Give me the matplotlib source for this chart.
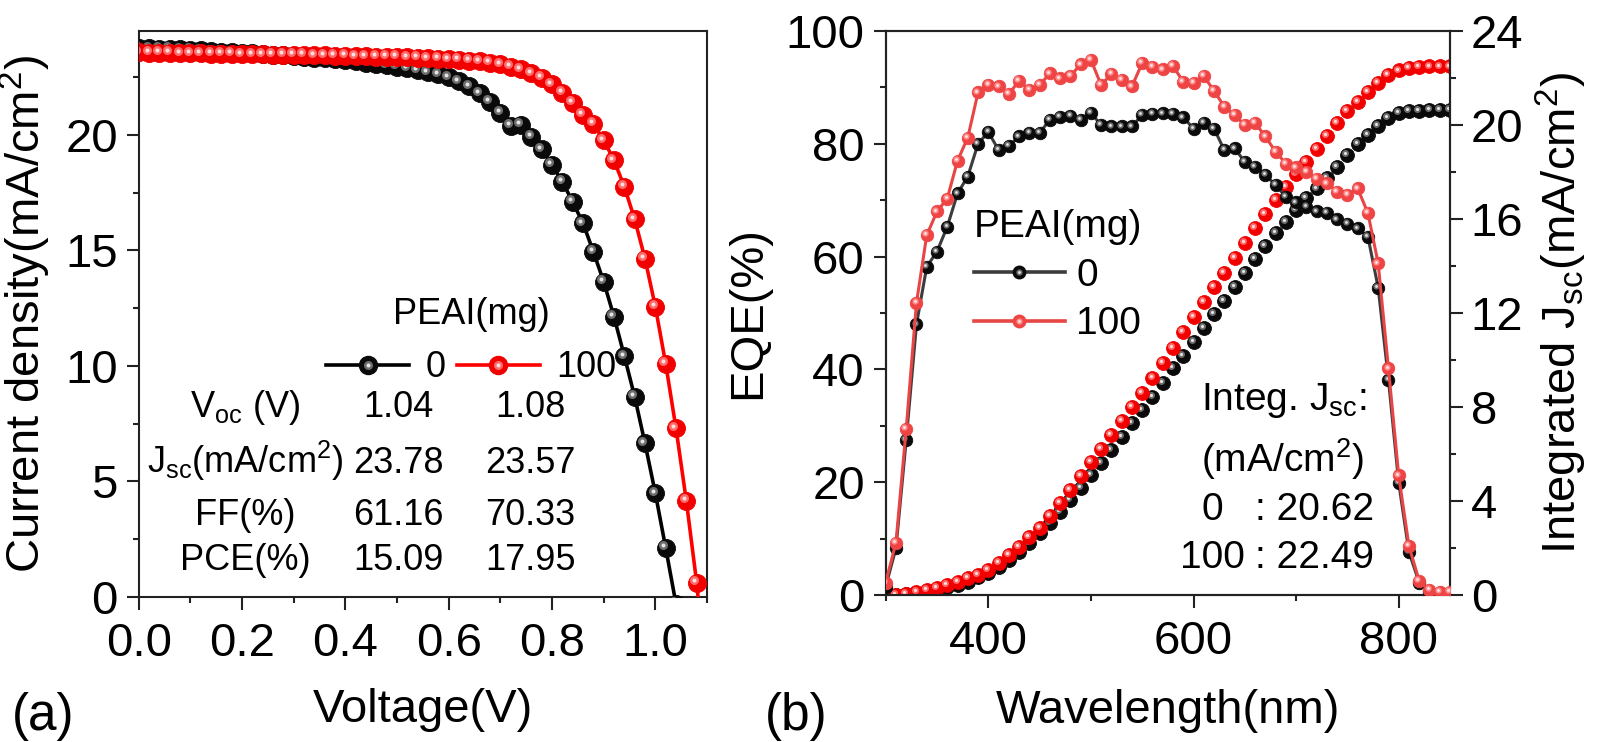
import numpy as np
import matplotlib
matplotlib.use("Agg")
import matplotlib.pyplot as plt
from matplotlib.lines import Line2D
from matplotlib.legend_handler import HandlerTuple
from matplotlib.transforms import offset_copy
from matplotlib.ticker import MultipleLocator

plt.rcParams['font.family'] = ['Liberation Sans', 'DejaVu Sans']
plt.rcParams['mathtext.fontset'] = 'custom'
plt.rcParams['mathtext.rm'] = 'Liberation Sans'
plt.rcParams['mathtext.it'] = 'Liberation Sans:italic'
plt.rcParams['mathtext.bf'] = 'Liberation Sans:bold'

# ---------------- (a) J-V data ----------------
voltage_0 = [0.00, 0.02, 0.04, 0.06, 0.08, 0.10, 0.12, 0.14, 0.16, 0.18,
             0.20, 0.22, 0.24, 0.26, 0.28, 0.30, 0.32, 0.34, 0.36, 0.38,
             0.40, 0.42, 0.44, 0.46, 0.48, 0.50, 0.52, 0.54, 0.56, 0.58,
             0.60, 0.62, 0.64, 0.66, 0.68, 0.70, 0.72, 0.74, 0.76, 0.78,
             0.80, 0.82, 0.84, 0.86, 0.88, 0.90, 0.92, 0.94, 0.96, 0.98,
             1.00, 1.02, 1.04]
current_0 = [23.78, 23.76, 23.74, 23.72, 23.70, 23.68, 23.66, 23.63, 23.61, 23.58,
             23.56, 23.53, 23.50, 23.47, 23.44, 23.41, 23.38, 23.35, 23.31, 23.27,
             23.23, 23.18, 23.13, 23.08, 23.02, 22.96, 22.89, 22.81, 22.72, 22.62,
             22.50, 22.33, 22.10, 21.80, 21.44, 20.95, 20.40, 20.43, 19.93, 19.38,
             18.70, 17.98, 17.10, 16.18, 14.95, 13.65, 12.13, 10.43, 8.67, 6.65,
             4.49, 2.13, -0.30]
voltage_100 = [0.00, 0.02, 0.04, 0.06, 0.08, 0.10, 0.12, 0.14, 0.16, 0.18,
               0.20, 0.22, 0.24, 0.26, 0.28, 0.30, 0.32, 0.34, 0.36, 0.38,
               0.40, 0.42, 0.44, 0.46, 0.48, 0.50, 0.52, 0.54, 0.56, 0.58,
               0.60, 0.62, 0.64, 0.66, 0.68, 0.70, 0.72, 0.74, 0.76, 0.78,
               0.80, 0.82, 0.84, 0.86, 0.88, 0.90, 0.92, 0.94, 0.96, 0.98,
               1.00, 1.02, 1.04, 1.06, 1.08, 1.10]
current_100 = [23.57, 23.56, 23.56, 23.55, 23.54, 23.53, 23.53, 23.52, 23.51, 23.51,
               23.50, 23.49, 23.49, 23.48, 23.47, 23.46, 23.46, 23.45, 23.44, 23.43,
               23.42, 23.41, 23.40, 23.39, 23.38, 23.38, 23.36, 23.34, 23.32, 23.30,
               23.27, 23.25, 23.22, 23.19, 23.13, 23.06, 22.96, 22.84, 22.67, 22.48,
               22.19, 21.83, 21.40, 20.87, 20.48, 19.78, 18.90, 17.76, 16.35, 14.64,
               12.57, 10.10, 7.30, 4.16, 0.62, -4.00]

legend_title = "PEAI(mg)"
series_names = ["0", "100"]
table_rows = ["V$_{\\mathrm{oc}}$ (V)", "J$_{\\mathrm{sc}}$(mA/cm$^{\\mathrm{2}}$)", "FF(%)", "PCE(%)"]
table_0 = ["1.04", "23.78", "61.16", "15.09"]
table_100 = ["1.08", "23.57", "70.33", "17.95"]

# ---------------- (b) EQE data ----------------
wavelength = [300, 310, 320, 330, 340, 350, 360, 370, 380, 390,
              400, 410, 420, 430, 440, 450, 460, 470, 480, 490,
              500, 510, 520, 530, 540, 550, 560, 570, 580, 590,
              600, 610, 620, 630, 640, 650, 660, 670, 680, 690,
              700, 710, 720, 730, 740, 750, 760, 770, 780, 790,
              800, 810, 820, 830, 840, 850]
eqe_0 = [1.5, 8.3, 27.5, 48.0, 58.2, 60.9, 65.3, 71.2, 74.2, 80.0,
         82.1, 78.9, 79.6, 81.3, 82.0, 81.9, 84.3, 84.8, 84.9, 84.2,
         85.5, 83.3, 83.1, 83.1, 83.1, 85.1, 85.3, 85.4, 85.3, 84.7,
         82.7, 83.7, 82.7, 78.9, 79.2, 76.8, 75.9, 74.5, 72.7, 70.6,
         69.6, 68.8, 68.0, 67.7, 66.6, 65.8, 65.0, 63.5, 54.5, 38.2,
         19.9, 7.6, 2.2, 0.6, 0.3, 0.2]
eqe_100 = [2.2, 9.3, 29.5, 51.8, 63.8, 68.0, 70.3, 77.0, 81.1, 89.1,
           90.5, 90.2, 88.8, 91.2, 89.5, 90.4, 92.5, 91.6, 92.0, 94.1,
           94.9, 90.4, 92.4, 91.4, 90.2, 94.3, 93.7, 93.2, 93.8, 91.0,
           90.8, 92.0, 89.4, 86.6, 85.1, 83.3, 83.7, 81.3, 78.6, 76.5,
           75.8, 75.0, 73.8, 73.0, 71.5, 70.9, 72.1, 67.7, 58.8, 40.2,
           21.2, 8.65, 2.5, 0.85, 0.6, 0.5]
jint_0 = [0.00, 0.02, 0.05, 0.09, 0.15, 0.23, 0.32, 0.44, 0.57, 0.75,
          0.95, 1.20, 1.49, 1.84, 2.20, 2.62, 3.05, 3.54, 4.04, 4.54,
          5.11, 5.60, 6.17, 6.71, 7.31, 7.87, 8.44, 9.03, 9.65, 10.17,
          10.78, 11.35, 11.96, 12.50, 13.10, 13.70, 14.30, 14.85, 15.39, 15.89,
          16.38, 16.88, 17.30, 17.73, 18.23, 18.72, 19.19, 19.57, 19.96, 20.28,
          20.50, 20.59, 20.61, 20.62, 20.62, 20.62]
jint_100 = [0.00, 0.02, 0.06, 0.12, 0.20, 0.30, 0.42, 0.56, 0.71, 0.87,
            1.06, 1.35, 1.70, 2.06, 2.45, 2.87, 3.36, 3.90, 4.47, 5.06,
            5.65, 6.22, 6.81, 7.39, 7.99, 8.61, 9.22, 9.87, 10.53, 11.20,
            11.84, 12.48, 13.12, 13.69, 14.36, 15.00, 15.60, 16.22, 16.80, 17.37,
            17.91, 18.44, 19.00, 19.55, 20.07, 20.60, 21.00, 21.40, 21.80, 22.13,
            22.32, 22.42, 22.47, 22.49, 22.49, 22.49]
integ_lines = ["Integ. J$_{\\mathrm{sc}}$:", "(mA/cm$^{\\mathrm{2}}$)"]
integ_names = ["0", "100"]
integ_values = [": 20.62", ": 22.49"]

# ---------------- figure ----------------
W, H = 1600, 742
fig = plt.figure(figsize=(16, 7.42), dpi=100)

def rect(l, t, r, b):
    return [l / W, 1 - b / H, (r - l) / W, (b - t) / H]

ax1 = fig.add_axes(rect(138.7, 31, 707, 597))
ax2 = fig.add_axes(rect(885.7, 31, 1450, 595))
ax2r = ax2.twinx()

TICK_FS = 34
LABEL_FS = 34
MS_JV = 13
MS_EQE = 9
MS_INT = 10

def balls(ax, x, y, base, hl1, hl2, ms, z, line=None, lw=0.0):
    ax.plot(x, y, ls='-' if line else 'none', color=line if line else base, lw=lw,
            marker='o', ms=ms, mfc=base, mec=base, mew=0.6, zorder=z)
    tr = offset_copy(ax.transData, fig=fig, x=-ms * 0.14, y=ms * 0.14, units='points')
    ax.plot(x, y, ls='none', marker='o', ms=ms * 0.5, mfc=hl1, mec='none',
            transform=tr, zorder=z + 0.1)
    ax.plot(x, y, ls='none', marker='o', ms=ms * 0.22, mfc=hl2, mec='none',
            transform=tr, zorder=z + 0.2)

def ball_handle(base, hl1, hl2, ms, line, lw):
    return (Line2D([], [], color=line, lw=lw, marker='o', ms=ms, mfc=base, mec=base),
            Line2D([], [], ls='none', marker='o', ms=ms * 0.5, mfc=hl1, mec='none'),
            Line2D([], [], ls='none', marker='o', ms=ms * 0.22, mfc=hl2, mec='none'))

BLK = ('#0a0a0a', '#6e6e6e', '#e6e6e6')
RED = ('#f20000', '#ff6a6a', '#ffe0e0')
RED_EQE = ('#ee4444', '#ff8c8c', '#ffe8e8')

# ---- panel (a)
balls(ax1, voltage_0, current_0, *BLK, ms=MS_JV, z=3, line='#000000', lw=2.6)
balls(ax1, voltage_100, current_100, *RED, ms=MS_JV, z=4, line='#ff0000', lw=2.6)
ax1.set_xlim(0, 1.1)
ax1.set_ylim(0, 24.5)
ax1.xaxis.set_major_locator(MultipleLocator(0.2))
ax1.xaxis.set_minor_locator(MultipleLocator(0.1))
ax1.yaxis.set_major_locator(MultipleLocator(5))
ax1.yaxis.set_minor_locator(MultipleLocator(2.5))
ax1.xaxis.set_major_formatter(matplotlib.ticker.FormatStrFormatter('%.1f'))
ax1.set_xlabel("Voltage(V)", fontsize=LABEL_FS)
ax1.set_ylabel("Current density(mA/cm$^{\\mathrm{2}}$)", fontsize=LABEL_FS)
ax1.xaxis.set_label_coords(0.5, -0.160)
ax1.yaxis.set_label_coords(-0.150, 0.5)

h0 = ball_handle(*BLK, MS_JV, '#000000', 2.6)
h1 = ball_handle(*RED, MS_JV, '#ff0000', 2.6)
leg1 = ax1.legend([h0, h1], series_names, title=legend_title, ncol=2,
                  handler_map={tuple: HandlerTuple(ndivide=1)},
                  loc='center', bbox_to_anchor=(0.585, 0.452), frameon=False,
                  fontsize=26, title_fontsize=26, handlelength=2.3,
                  handletextpad=0.45, columnspacing=0.3, borderpad=0.1,
                  borderaxespad=0)

row_y = [0.3186, 0.2186, 0.1272, 0.0477]
for lab, v0, v1, yy in zip(table_rows, table_0, table_100, row_y):
    ax1.text(0.187, yy, lab, transform=ax1.transAxes, ha='center', va='baseline', fontsize=26)
    ax1.text(0.457, yy, v0, transform=ax1.transAxes, ha='center', va='baseline', fontsize=26)
    ax1.text(0.689, yy, v1, transform=ax1.transAxes, ha='center', va='baseline', fontsize=26)

# ---- panel (b)
balls(ax2r, wavelength, jint_0, *BLK, ms=MS_INT, z=3)
balls(ax2r, wavelength, jint_100, *RED, ms=MS_INT, z=4)
balls(ax2, wavelength, eqe_0, *BLK, ms=MS_EQE, z=3, line='#3c3c3c', lw=2.2)
balls(ax2, wavelength, eqe_100, *RED_EQE, ms=MS_EQE, z=4, line='#e84545', lw=2.2)
ax2.set_zorder(ax2r.get_zorder() + 1)
ax2.patch.set_visible(False)

ax2.set_xlim(300, 850)
ax2.set_ylim(0, 100)
ax2r.set_ylim(0, 24)
ax2.xaxis.set_major_locator(MultipleLocator(200))
ax2.xaxis.set_minor_locator(MultipleLocator(100))
ax2.yaxis.set_major_locator(MultipleLocator(20))
ax2.yaxis.set_minor_locator(MultipleLocator(10))
ax2r.yaxis.set_major_locator(MultipleLocator(4))
ax2r.yaxis.set_minor_locator(MultipleLocator(2))
ax2.set_xlabel("Wavelength(nm)", fontsize=LABEL_FS)
ax2.set_ylabel("EQE(%)", fontsize=LABEL_FS)
ax2r.set_ylabel("Integrated J$_{\\mathrm{sc}}$(mA/cm$^{\\mathrm{2}}$)", fontsize=LABEL_FS)
ax2.xaxis.set_label_coords(0.5, -0.166)
ax2.yaxis.set_label_coords(-0.204, 0.5)
ax2r.yaxis.set_label_coords(1.148, 0.5)

g0 = ball_handle(*BLK, MS_EQE, '#3c3c3c', 2.6)
g1 = ball_handle(*RED_EQE, MS_EQE, '#e84545', 2.6)
leg2 = ax2.legend([g0, g1], series_names, title=legend_title, ncol=1,
                  handler_map={tuple: HandlerTuple(ndivide=1)},
                  loc='center', bbox_to_anchor=(0.306, 0.566), frameon=False,
                  fontsize=28, title_fontsize=28, handlelength=2.33,
                  handletextpad=0.3, labelspacing=0.32, borderpad=0.1,
                  borderaxespad=0)
leg2._legend_box.align = "left"

ax2.text(0.5588, 0.328, integ_lines[0], transform=ax2.transAxes, ha='left', va='baseline', fontsize=28)
ax2.text(0.5588, 0.2186, integ_lines[1], transform=ax2.transAxes, ha='left', va='baseline', fontsize=28)
ax2.text(0.5588, 0.133, integ_names[0], transform=ax2.transAxes, ha='left', va='baseline', fontsize=28)
ax2.text(0.5215, 0.0473, integ_names[1], transform=ax2.transAxes, ha='left', va='baseline', fontsize=28)
ax2.text(0.655, 0.133, integ_values[0], transform=ax2.transAxes, ha='left', va='baseline', fontsize=28)
ax2.text(0.655, 0.0473, integ_values[1], transform=ax2.transAxes, ha='left', va='baseline', fontsize=28)

# ---- styling
for ax in (ax1, ax2, ax2r):
    for s in ax.spines.values():
        s.set_linewidth(1.5)
        s.set_color('#222222')
    ax.tick_params(which='major', direction='out', length=9, width=1.5,
                   labelsize=TICK_FS, color='#222222')
    ax.tick_params(which='minor', direction='out', length=4.5, width=1.5, color='#222222')
ax1.tick_params(axis='y', which='both', right=False)
ax1.tick_params(axis='x', which='both', top=False)
ax1.tick_params(axis='x', which='major', pad=9)
ax1.tick_params(axis='y', which='major', pad=6)
ax2.tick_params(axis='x', which='both', top=False)
ax2.tick_params(axis='x', which='major', pad=9)
ax2.tick_params(axis='y', which='major', pad=6)
ax2r.tick_params(axis='y', which='major', pad=6)

fig.text(12 / W, 1 - 716.7 / H, "(a)", fontsize=37, ha='left', va='center')
fig.text(765 / W, 1 - 716.7 / H, "(b)", fontsize=37, ha='left', va='center')

fig.savefig("out.png", dpi=100)
